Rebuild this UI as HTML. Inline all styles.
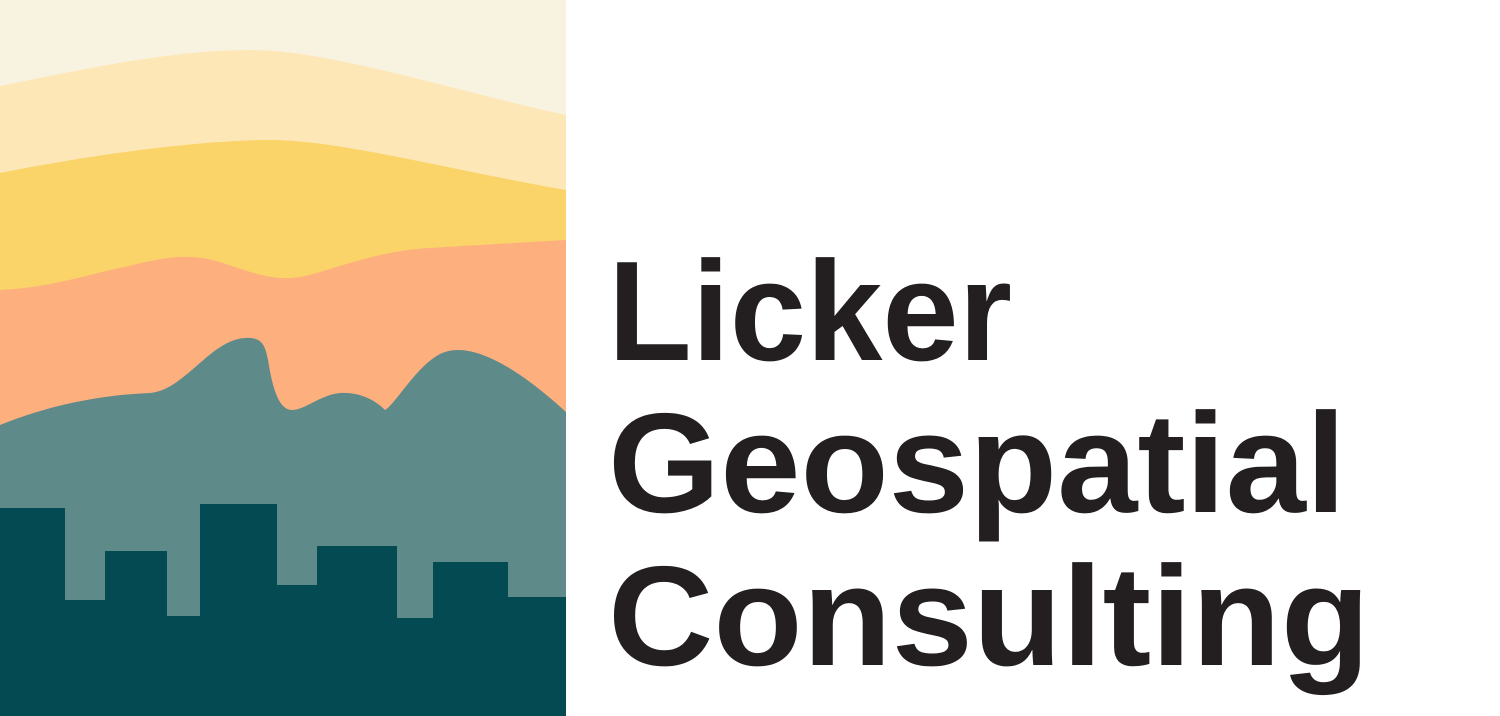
<!DOCTYPE html>
<html><head><meta charset="utf-8"><style>
html,body{margin:0;padding:0;background:#fff;width:1500px;height:716px;overflow:hidden}
svg{display:block}
</style></head><body>
<svg width="1500" height="716" viewBox="0 0 1500 716">
<g>
<rect x="0" y="0" width="566" height="716" fill="#F8F3E0"/>
<path fill="#FDE7B6" d="M0,86 C80,70 170,50 250,50 C330,50 450,90 566,115 L566,716 L0,716 Z"/>
<path fill="#FAD468" d="M0,173 C90,155 200,140 270,140 C340,140 450,170 566,190 L566,716 L0,716 Z"/>
<path fill="#FDB07E" d="M0,290 C40,288 70,280 110,270 C150,262 180,250 220,262 C260,275 280,285 320,272 C360,260 390,250 430,248 C480,245 530,242 566,240 L566,716 L0,716 Z"/>
<path fill="#5E8A8A" d="M0,425 C50,405 100,395 150,393 C185,390 210,340 245,338 C262,337 265,345 268,360 C272,385 278,410 292,410 C305,410 320,395 340,393 C360,392 375,400 385,410 C395,405 420,360 445,352 C475,342 520,370 566,412 L566,716 L0,716 Z"/>
<path fill="#034A52" d="M0,508 L65,508 L65,600 L105,600 L105,551 L167,551 L167,616 L200,616 L200,504 L277,504 L277,585 L317,585 L317,546 L397,546 L397,618 L433,618 L433,562 L508,562 L508,597 L566,597 L566,716 L0,716 Z"/>
</g>
<g font-family="'Liberation Sans', sans-serif" font-weight="bold" font-size="142" fill="#231F20">
<text x="608" y="360" textLength="404" lengthAdjust="spacingAndGlyphs">Licker</text>
<text x="608" y="512" textLength="738" lengthAdjust="spacingAndGlyphs">Geospatial</text>
<text x="608" y="665" textLength="762" lengthAdjust="spacingAndGlyphs">Consulting</text>
</g>
</svg>
</body></html>
